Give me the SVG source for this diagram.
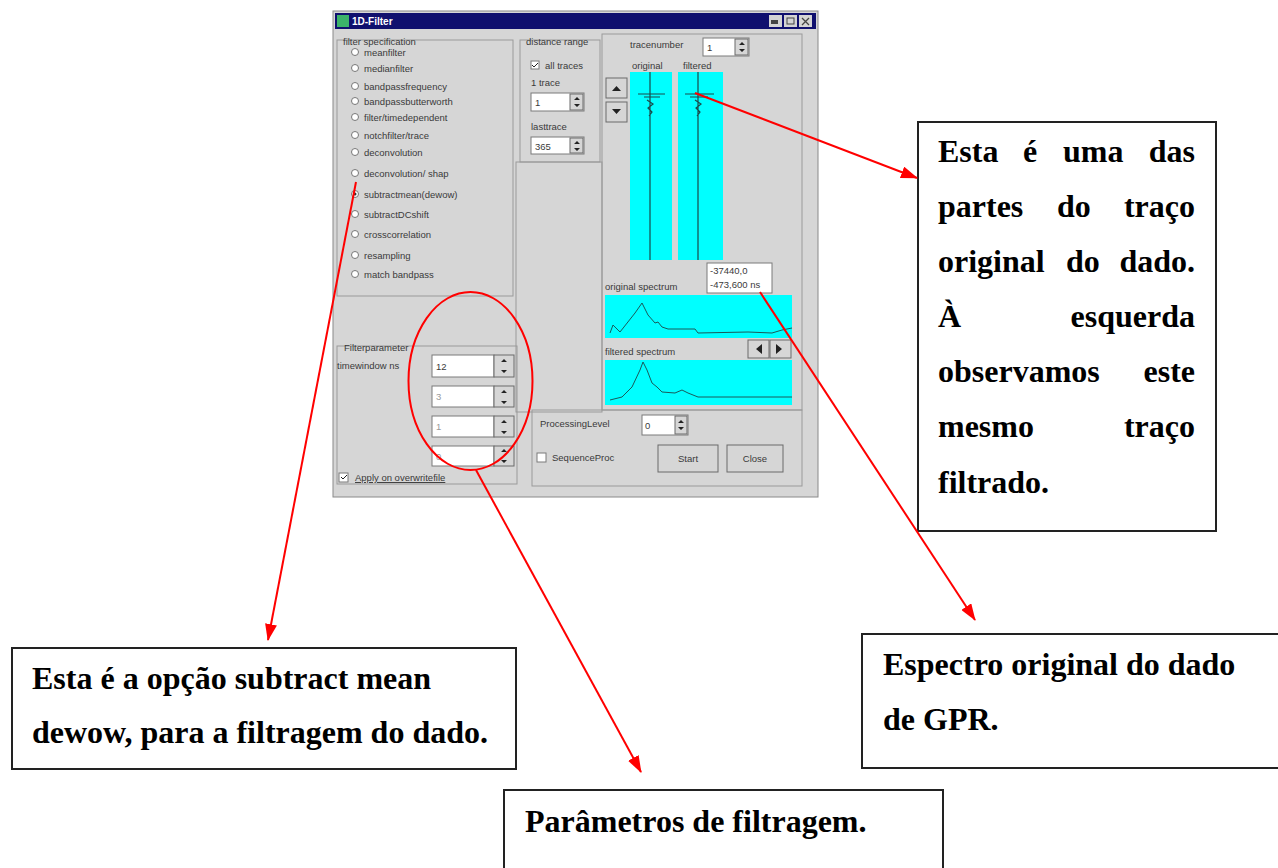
<svg xmlns="http://www.w3.org/2000/svg" width="1278" height="868" viewBox="0 0 1278 868">
<defs>
<style>
.ui{font-family:"Liberation Sans",Arial,sans-serif;font-size:9.5px;fill:#3a3a3a}
.note{font-family:"Liberation Serif","Times New Roman",serif;font-size:32px;font-weight:bold;fill:#000}
.box{fill:#fff;stroke:#222;stroke-width:2}
.red{stroke:#ff0000;stroke-width:2;fill:none}
.grpd{fill:none;stroke:#9a9a9a;stroke-width:1}
.inp{fill:#fff;stroke:#7a7a7a;stroke-width:1}
.btn{fill:#d6d6d6;stroke:#6a6a6a;stroke-width:1}
.cy{fill:#00ffff}
.radio{fill:#fff;stroke:#777;stroke-width:1}
</style>
<marker id="ah" viewBox="0 0 17 12" refX="16" refY="6" markerWidth="17" markerHeight="12" markerUnits="userSpaceOnUse" orient="auto">
<path d="M0,0 L17,6 L0,12 z" fill="#ff0000"/>
</marker>
</defs>
<rect x="0" y="0" width="1278" height="868" fill="#fff"/>

<g id="dialog">
<rect x="333" y="11" width="485" height="486" fill="#d6d6d6" stroke="#8a8a8a"/>
<rect x="335" y="13" width="481" height="16" fill="#10106e"/>
<rect x="337" y="15" width="12" height="12" fill="#3cb36a"/>
<text x="352" y="25" font-family="Liberation Sans,Arial,sans-serif" font-size="10" font-weight="bold" fill="#fff">1D-Filter</text>
<rect x="769" y="15" width="13" height="12" fill="#d4d4d4"/>
<rect x="784" y="15" width="13" height="12" fill="#d4d4d4"/>
<rect x="799" y="15" width="13" height="12" fill="#d4d4d4"/>
<rect x="771" y="20" width="7" height="4" fill="#444"/>
<rect x="787" y="18" width="7" height="6" fill="none" stroke="#444"/>
<path d="M802,18 L809,25 M809,18 L802,25" stroke="#444" stroke-width="1.3"/>

<rect x="337" y="40" width="176" height="256" class="grpd"/>
<text x="343" y="45" class="ui">filter specification</text>
<g class="ui">
<circle cx="355" cy="52" r="3.5" class="radio"/><text x="364" y="56">meanfilter</text>
<circle cx="355" cy="68" r="3.5" class="radio"/><text x="364" y="72">medianfilter</text>
<circle cx="355" cy="86" r="3.5" class="radio"/><text x="364" y="90">bandpassfrequency</text>
<circle cx="355" cy="101" r="3.5" class="radio"/><text x="364" y="105">bandpassbutterworth</text>
<circle cx="355" cy="117" r="3.5" class="radio"/><text x="364" y="121">filter/timedependent</text>
<circle cx="355" cy="135" r="3.5" class="radio"/><text x="364" y="139">notchfilter/trace</text>
<circle cx="355" cy="152" r="3.5" class="radio"/><text x="364" y="156">deconvolution</text>
<circle cx="355" cy="173" r="3.5" class="radio"/><text x="364" y="177">deconvolution/ shap</text>
<circle cx="355" cy="194" r="3.5" class="radio"/><circle cx="355" cy="194" r="1.5" fill="#333"/><text x="364" y="198">subtractmean(dewow)</text>
<circle cx="355" cy="214" r="3.5" class="radio"/><text x="364" y="218">subtractDCshift</text>
<circle cx="355" cy="234" r="3.5" class="radio"/><text x="364" y="238">crosscorrelation</text>
<circle cx="355" cy="255" r="3.5" class="radio"/><text x="364" y="259">resampling</text>
<circle cx="355" cy="274" r="3.5" class="radio"/><text x="364" y="278">match bandpass</text>
</g>

<rect x="337" y="346" width="180" height="138" class="grpd"/>
<text x="344" y="351" class="ui">Filterparameter</text>
<text x="337" y="369" class="ui">timewindow ns</text>
<g class="ui">
<rect x="432" y="355" width="62" height="22" class="inp"/><rect x="494" y="355" width="20" height="22" class="btn"/><text x="436" y="370">12</text>
<rect x="432" y="386" width="62" height="21" class="inp"/><rect x="494" y="386" width="20" height="21" class="btn"/><text x="436" y="400" fill="#999">3</text>
<rect x="432" y="416" width="62" height="21" class="inp"/><rect x="494" y="416" width="20" height="21" class="btn"/><text x="436" y="430" fill="#999">1</text>
<rect x="432" y="446" width="62" height="20" class="inp"/><rect x="494" y="446" width="20" height="20" class="btn"/><text x="436" y="460" fill="#999">0</text>
<path d="M501,362 l3,-3 l3,3 z M501,370 l3,3 l3,-3 z M501,393 l3,-3 l3,3 z M501,401 l3,3 l3,-3 z M501,423 l3,-3 l3,3 z M501,431 l3,3 l3,-3 z M501,452 l3,-3 l3,3 z M501,460 l3,3 l3,-3 z" fill="#222"/>
<rect x="339" y="473" width="9" height="9" class="inp"/><path d="M341,477 l2,2 l4,-4" stroke="#222" fill="none"/>
<text x="355" y="481" text-decoration="underline">Apply on overwritefile</text>
</g>

<rect x="520" y="40" width="80" height="122" class="grpd"/>
<text x="526" y="45" class="ui">distance range</text>
<g class="ui">
<rect x="531" y="61" width="8" height="8" class="inp"/><path d="M532,65 l2,2 l4,-4" stroke="#222" fill="none"/>
<text x="545" y="69">all traces</text>
<text x="531" y="86">1 trace</text>
<rect x="531" y="93" width="53" height="18" class="inp"/><rect x="570" y="94" width="13" height="16" class="btn"/><text x="535" y="106">1</text>
<text x="531" y="130">lasttrace</text>
<rect x="531" y="137" width="53" height="17" class="inp"/><rect x="570" y="138" width="13" height="15" class="btn"/><text x="535" y="150">365</text>
<path d="M574,100 l3,-3 l3,3 z M574,104 l3,3 l3,-3 z M574,144 l3,-3 l3,3 z M574,148 l3,3 l3,-3 z" fill="#222"/>
</g>
<rect x="516" y="162" width="86" height="250" class="grpd"/>

<rect x="602" y="34" width="200" height="376" class="grpd"/>
<g class="ui">
<text x="630" y="48">tracenumber</text>
<rect x="703" y="38" width="46" height="18" class="inp"/><rect x="735" y="39" width="13" height="16" class="btn"/><text x="707" y="51">1</text>
<path d="M739,45 l3,-3 l3,3 z M739,49 l3,3 l3,-3 z" fill="#222"/>
<text x="632" y="69">original</text>
<text x="683" y="69">filtered</text>
</g>
<rect x="630" y="72" width="42" height="188" class="cy"/>
<rect x="678" y="72" width="45" height="188" class="cy"/>
<g stroke="#1a4a4a" stroke-width="1.2" fill="none">
<path d="M650,72 V260 M638,94 H665 M644,97 H660 M647,100 l6,4 l-5,4 l4,4 l-3,4"/>
<path d="M698,72 V260 M685,94 H714 M690,97 H708 M695,100 l6,4 l-5,4 l4,4 l-3,4"/>
</g>
<rect x="606" y="78" width="21" height="20" class="btn"/>
<rect x="606" y="102" width="21" height="20" class="btn"/>
<path d="M612,91 l4.5,-5 l4.5,5 z M612,109 l4.5,5 l4.5,-5 z" fill="#222"/>

<rect x="707" y="263" width="65" height="30" class="inp"/>
<text x="710" y="274" class="ui" font-size="8.5">-37440,0</text>
<text x="710" y="288" class="ui" font-size="8.5">-473,600 ns</text>
<text x="605" y="290" class="ui">original spectrum</text>
<rect x="605" y="295" width="187" height="43" class="cy"/>
<polyline points="610,333 613,325 620,332 635,313 642,303 648,315 655,323 658,322 662,327 668,329 695,329 698,333 748,332 772,333 782,330 792,328" fill="none" stroke="#1a5a5a" stroke-width="1"/>
<text x="605" y="355" class="ui">filtered spectrum</text>
<rect x="748" y="340" width="21" height="18" class="btn"/>
<rect x="770" y="340" width="21" height="18" class="btn"/>
<path d="M762,344 l-6,5 l6,5 z M776,344 l6,5 l-6,5 z" fill="#222"/>
<rect x="605" y="360" width="187" height="45" class="cy"/>
<polyline points="610,400 622,397 632,387 640,370 643,362 647,370 652,383 657,387 662,392 675,393 682,390 688,393 698,397 782,397 792,397" fill="none" stroke="#1a5a5a" stroke-width="1"/>

<rect x="532" y="410" width="270" height="76" class="grpd"/>
<g class="ui">
<text x="540" y="427">ProcessingLevel</text>
<rect x="642" y="415" width="46" height="20" class="inp"/><rect x="675" y="416" width="12" height="18" class="btn"/><text x="645" y="429">0</text>
<path d="M678,423 l3,-3 l3,3 z M678,427 l3,3 l3,-3 z" fill="#222"/>
<rect x="537" y="453" width="9" height="9" class="inp"/>
<text x="552" y="461">SequenceProc</text>
<rect x="658" y="445" width="60" height="27" class="btn"/><text x="688" y="462" text-anchor="middle">Start</text>
<rect x="727" y="445" width="56" height="27" class="btn"/><text x="755" y="462" text-anchor="middle">Close</text>
</g>
</g>

<ellipse cx="470.5" cy="381" rx="62" ry="89" class="red"/>

<g id="note-trace">
<rect x="918" y="122" width="298" height="409" class="box"/>
<text class="note" x="938" y="162">Esta<tspan x="1023">é</tspan><tspan x="1063">uma</tspan></text>
<text class="note" x="1195" y="162" text-anchor="end">das</text>
<text class="note" x="938" y="217">partes<tspan x="1057">do</tspan></text>
<text class="note" x="1195" y="217" text-anchor="end">traço</text>
<text class="note" x="938" y="272">original<tspan x="1066">do</tspan></text>
<text class="note" x="1195" y="272" text-anchor="end">dado.</text>
<text class="note" x="938" y="327">À</text>
<text class="note" x="1195" y="327" text-anchor="end">esquerda</text>
<text class="note" x="938" y="382">observamos</text>
<text class="note" x="1195" y="382" text-anchor="end">este</text>
<text class="note" x="938" y="437">mesmo</text>
<text class="note" x="1195" y="437" text-anchor="end">traço</text>
<text class="note" x="938" y="493">filtrado.</text>
</g>

<g id="note-dewow">
<rect x="12" y="648" width="504" height="121" class="box"/>
<text class="note" x="32" y="689">Esta é a opção subtract mean</text>
<text class="note" x="32" y="743">dewow, para a filtragem do dado.</text>
</g>

<g id="note-params">
<rect x="504" y="790" width="439" height="90" class="box"/>
<text class="note" x="525" y="832">Parâmetros de filtragem.</text>
</g>

<g id="note-spectrum">
<rect x="862" y="634" width="420" height="134" class="box"/>
<text class="note" x="883" y="675">Espectro original do dado</text>
<text class="note" x="883" y="730">de GPR.</text>
</g>

<g id="connectors" class="red">
<line x1="356" y1="182" x2="268" y2="640" marker-end="url(#ah)"/>
<line x1="476" y1="470" x2="641" y2="772" marker-end="url(#ah)"/>
<line x1="695" y1="93" x2="917" y2="178" marker-end="url(#ah)"/>
<line x1="760" y1="292" x2="975" y2="620" marker-end="url(#ah)"/>
</g>
</svg>
